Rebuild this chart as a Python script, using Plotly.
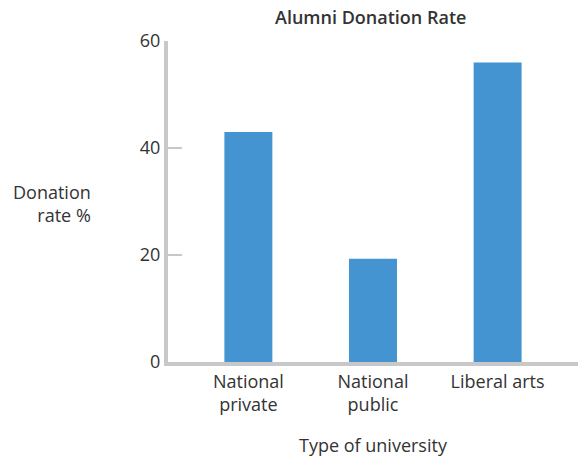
import plotly.graph_objects as go

categories = ["National private", "National public", "Liberal arts"]
tick_labels = ["National<br>private", "National<br>public", "Liberal arts"]
donation_rate = [43, 19.3, 56]
y_ticks = [0, 20, 40, 60]

FONT = "Open Sans"
TXT = "#333333"
AX = "#c8c8c8"

fig = go.Figure(go.Bar(
    x=categories, y=donation_rate,
    marker=dict(color="#4394d1", line=dict(width=0)),
    width=0.385,
))

fig.update_layout(
    width=578, height=458,
    margin=dict(l=167.5, r=0, t=41, b=96, autoexpand=False),
    plot_bgcolor="white", paper_bgcolor="white",
    font=dict(family=FONT, size=18, color=TXT),
    showlegend=False,
    xaxis=dict(
        range=[-0.645, 2.645], showline=True, linecolor=AX, linewidth=4,
        ticks="", tickmode="array", tickvals=categories, ticktext=tick_labels,
        showgrid=False, zeroline=False, fixedrange=True,
        tickfont=dict(family=FONT, size=18, color=TXT),
    ),
    yaxis=dict(
        range=[0, 60], tickvals=y_ticks, showline=True, linecolor=AX, linewidth=4,
        ticks="inside", ticklen=14, tickwidth=2, tickcolor=AX,
        showgrid=False, zeroline=False, fixedrange=True,
        tickfont=dict(family=FONT, size=18, color=TXT),
    ),
    annotations=[
        dict(text="Alumni Donation Rate", xref="paper", yref="paper",
             x=0.493, y=1.075, xanchor="center", yanchor="middle",
             showarrow=False, font=dict(family=FONT, size=18, color=TXT, weight=600)),
        dict(text="Donation<br>rate %", xref="paper", yref="paper",
             x=-0.184, y=0.494, xanchor="right", yanchor="middle", align="right",
             showarrow=False, font=dict(family=FONT, size=18, color=TXT)),
        dict(text="Type of university", xref="paper", yref="paper",
             x=0.5, y=-0.259, xanchor="center", yanchor="middle",
             showarrow=False, font=dict(family=FONT, size=18, color=TXT, weight=500)),
    ],
)

fig.write_html("out.html", config={"displayModeBar": False},
               post_script="document.body.style.margin='0';")
